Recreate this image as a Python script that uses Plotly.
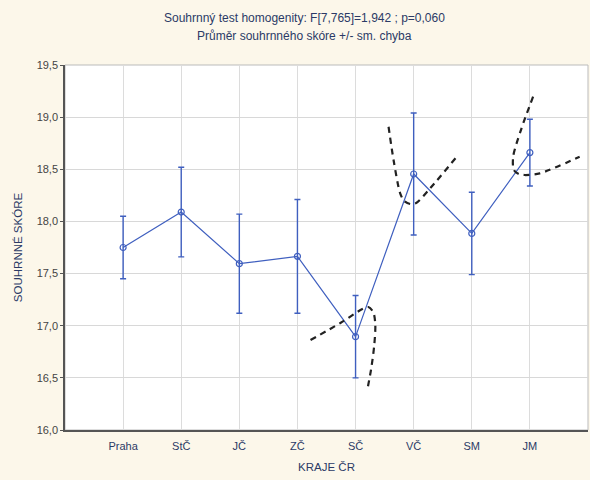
import plotly.graph_objects as go

# ---- data ----
regions = ["Praha", "StČ", "JČ", "ZČ", "SČ", "VČ", "SM", "JM"]
mean_score = [17.75, 18.09, 17.595, 17.665, 16.895, 18.455, 17.885, 18.66]
std_error = [0.30, 0.43, 0.475, 0.545, 0.395, 0.585, 0.395, 0.32]

# hand-drawn dashed curves (x in category index units, y in score units)
curve_sc_x = [3.225, 3.739, 4.117, 4.220, 4.305, 4.340, 4.322, 4.271, 4.202]
curve_sc_y = [16.863, 17.026, 17.160, 17.179, 17.131, 17.007, 16.815, 16.594, 16.384]
curve_vc_x = [4.568, 4.654, 4.768, 4.837, 4.940, 5.043, 5.283, 5.741]
curve_vc_y = [18.908, 18.589, 18.269, 18.196, 18.167, 18.176, 18.317, 18.620]
curve_jm_x = [7.055, 6.856, 6.712, 6.724, 6.810, 6.913, 7.170, 7.856]
curve_jm_y = [19.196, 18.893, 18.620, 18.493, 18.454, 18.445, 18.461, 18.620]

y_ticks = [16.0, 16.5, 17.0, 17.5, 18.0, 18.5, 19.0, 19.5]

title_line1 = "Souhrnný test homogenity: F[7,765]=1,942 ; p=0,060"
title_line2 = "Průměr souhrnného skóre +/- sm. chyba"
x_title = "KRAJE ČR"
y_title = "SOUHRNNÉ SKÓRE"

blue = "#3f5fbf"
navy = "#2b3a66"
idx = list(range(len(regions)))

fig = go.Figure()

fig.add_trace(go.Scatter(
    x=idx, y=mean_score, mode="lines+markers",
    line=dict(color=blue, width=1.2),
    marker=dict(symbol="circle-open", size=6, color=blue, line=dict(width=1.2)),
    error_y=dict(type="data", array=std_error, visible=True,
                 color=blue, thickness=1.4, width=3),
    showlegend=False, hoverinfo="skip",
))

for cx, cy in [(curve_sc_x, curve_sc_y), (curve_vc_x, curve_vc_y), (curve_jm_x, curve_jm_y)]:
    fig.add_trace(go.Scatter(
        x=cx, y=cy, mode="lines",
        line=dict(color="#222222", width=2.2, dash="6px,5px", shape="spline", smoothing=0.8),
        showlegend=False, hoverinfo="skip",
    ))

plot_h = 480 - 65 - 50
plot_w = 590 - 65 - 2
title_x = (304 - 65) / plot_w
fig.update_layout(
    width=590, height=480,
    margin=dict(l=65, r=2, t=65, b=50),
    paper_bgcolor="#fcf7ea",
    plot_bgcolor="#ffffff",
    separators=", ",
    font=dict(family="Liberation Sans, Arial, sans-serif", size=11, color="#333333"),
    annotations=[
        dict(text=title_line1, x=title_x, xref="paper", y=1 + (65 - 18) / plot_h, yref="paper",
             yanchor="middle", showarrow=False, font=dict(size=12, color=navy)),
        dict(text=title_line2, x=title_x, xref="paper", y=1 + (65 - 36) / plot_h, yref="paper",
             yanchor="middle", showarrow=False, font=dict(size=12, color=navy)),
    ],
)

fig.update_xaxes(
    range=[-1, 8], tickmode="array", tickvals=idx, ticktext=regions,
    showgrid=True, gridcolor="#dcdcdc", gridwidth=1,
    showline=True, linecolor="#555555", linewidth=1.5,
    ticks="outside", ticklen=5, tickcolor="rgba(255,255,255,0)",
    tickfont=dict(size=11, color=navy),
    title=dict(text=x_title, font=dict(size=11.5, color=navy), standoff=12),
    zeroline=False,
)
fig.update_yaxes(
    range=[16.0, 19.5], tickmode="array", tickvals=y_ticks,
    tickformat=".1f",
    showgrid=True, gridcolor="#d8d8d8", gridwidth=1,
    showline=True, linecolor="#555555", linewidth=1.5,
    ticks="outside", ticklen=3, tickcolor="#555555",
    tickfont=dict(size=11, color="#444444"),
    title=dict(text=y_title, font=dict(size=11.5, color=navy), standoff=12),
    zeroline=False,
)
fig.add_shape(type="rect", xref="paper", yref="paper", x0=0, x1=1, y0=0, y1=1,
              line=dict(color="#bbbbbb", width=1), layer="below")

fig.write_html("out.html")
